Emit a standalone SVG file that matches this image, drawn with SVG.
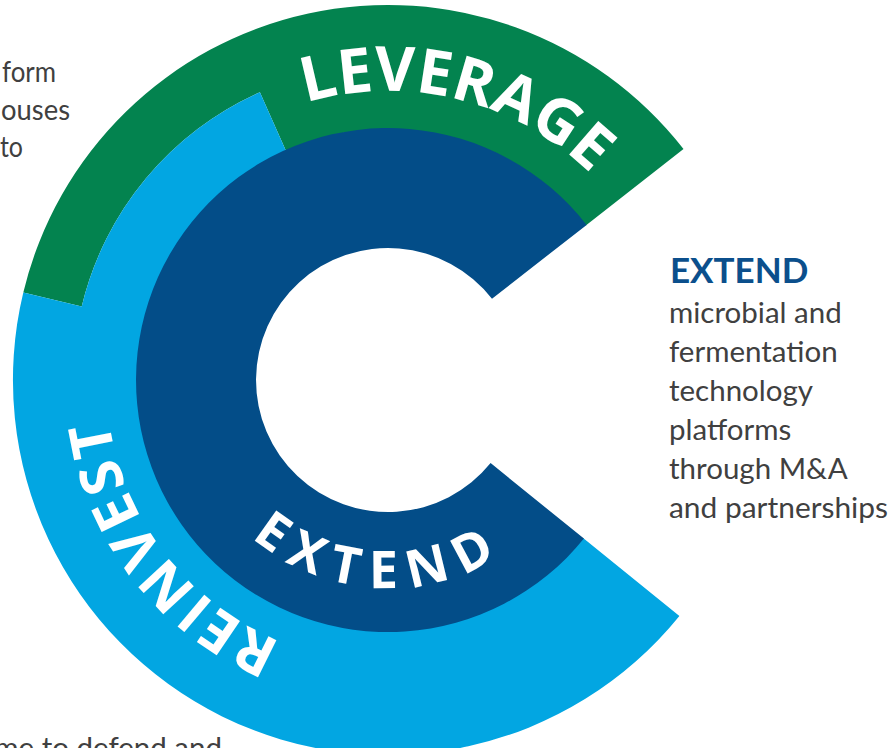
<svg xmlns="http://www.w3.org/2000/svg" width="892" height="748" viewBox="0 0 892 748">
  <style>
    .band-green { fill: #03834F; }
    .band-light { fill: #02A6E2; }
    .band-dark { fill: #034D88; }
    .arc-label { fill: #FFFFFF; font-family: "Open Sans", "DejaVu Sans", sans-serif; font-weight: 700; }
    .body { fill: #404040; font-family: Lato, "Liberation Sans", sans-serif; font-size: 29.5px; }
    .heading { fill: #0B4F8C; font-family: Lato, "Liberation Sans", sans-serif; font-weight: 700; font-size: 35px; }
  </style>
  <defs>
    <!-- baseline arcs around the ring centre (388,380) -->
    <path id="arc-leverage" d="M 116.4 281.2 A 289 289 0 0 1 674.2 420.2"/>
    <path id="arc-reinvest" d="M 513.2 632.5 A 281 281 0 0 1 176.3 195.6"/>
    <path id="arc-extend" d="M 181.5 405.3 A 208 208 0 0 0 590.7 426.8"/>
  </defs>
  <rect width="892" height="748" fill="#FFFFFF"/>

  <!-- outer band, green part (upper) -->
  <g id="leverage">
    <path class="band-green" d="M 23.3 292.5 A 375 375 0 0 1 683.5 149.1 L 585.8 225.5 A 251 251 0 0 0 285.9 150.7 L 259.9 92.2 A 315 315 0 0 0 81.7 306.5 Z"/>
    <text class="arc-label" font-size="62"><textPath href="#arc-leverage" startOffset="50%" text-anchor="middle">LEVERAGE</textPath></text>
  </g>

  <!-- outer band, light blue part (left and lower) -->
  <g id="reinvest">
    <path class="band-light" d="M 679.4 616.0 A 375 375 0 0 1 23.3 292.5 L 81.7 306.5 A 315 315 0 0 1 259.9 92.2 L 285.9 150.7 A 251 251 0 1 0 583.1 538.0 Z"/>
    <text class="arc-label" font-size="58" letter-spacing="3"><textPath href="#arc-reinvest" startOffset="50%" text-anchor="middle">REINVEST</textPath></text>
  </g>

  <!-- inner band, dark blue -->
  <g id="extend">
    <path class="band-dark" d="M 583.9 538.6 A 252 252 0 1 1 586.6 224.9 L 492.0 298.7 A 132 132 0 1 0 490.6 463.1 Z"/>
    <text class="arc-label" font-size="52" letter-spacing="12"><textPath href="#arc-extend" startOffset="50%" text-anchor="middle">EXTEND</textPath></text>
  </g>

  <!-- description on the right -->
  <g id="extend-text">
    <text class="heading" x="670" y="283">EXTEND</text>
    <text class="body">
      <tspan x="669" y="323">microbial and</tspan>
      <tspan x="669" y="362">fermentation</tspan>
      <tspan x="669" y="401">technology</tspan>
      <tspan x="669" y="440">platforms</tspan>
      <tspan x="669" y="479">through M&amp;A</tspan>
      <tspan x="669" y="518" textLength="219" lengthAdjust="spacingAndGlyphs">and partnerships</tspan>
    </text>
  </g>

  <!-- description on the upper left, running off the edge -->
  <g id="leverage-text">
    <text class="body">
      <tspan x="2" y="82" textLength="54" lengthAdjust="spacingAndGlyphs">form</tspan>
      <tspan x="1" y="119.5" textLength="69" lengthAdjust="spacingAndGlyphs">ouses</tspan>
      <tspan x="0" y="157" textLength="23" lengthAdjust="spacingAndGlyphs">to</tspan>
    </text>
  </g>

  <!-- description at the bottom, running off the edge -->
  <g id="reinvest-text">
    <text class="body" text-anchor="end" x="222" y="758">me to defend and</text>
  </g>
</svg>
